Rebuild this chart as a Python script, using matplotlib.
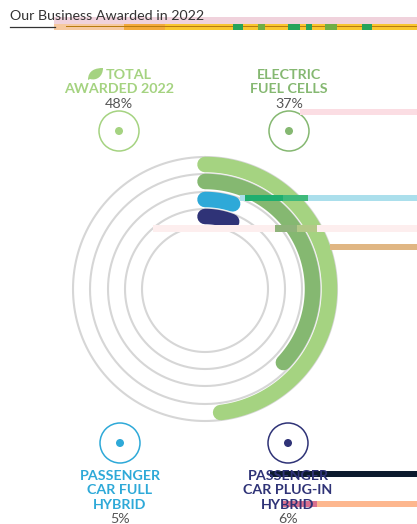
import numpy as np
import matplotlib.pyplot as plt
from matplotlib.patches import Circle, PathPatch, Rectangle
from matplotlib.path import Path

plt.rcParams['font.family'] = ['Lato', 'Open Sans', 'DejaVu Sans']

title = "Our Business Awarded in 2022"
categories = ["TOTAL\nAWARDED 2022", "ELECTRIC\nFUEL CELLS", "PASSENGER\nCAR FULL\nHYBRID", "PASSENGER\nCAR PLUG-IN\nHYBRID"]
values = [48, 37, 5, 6]
colors = ["#a5d381", "#85b871", "#2ea9d8", "#2f3377"]
ring_radii = [132, 115, 97, 80, 63]
bar_radii = [124.5, 107.5, 89.5, 72.5]

W, H = 417, 524
fig = plt.figure(figsize=(W / 100, H / 100), dpi=100)

# polar part, one r unit is one pixel
cx, cy, rmax = 205, 289, 140
pol = fig.add_axes([(cx - rmax) / W, 1 - (cy + rmax) / H, 2 * rmax / W, 2 * rmax / H], projection="polar")
pol.set_theta_zero_location("N")
pol.set_theta_direction(-1)
pol.set_ylim(0, rmax)
pol.axis("off")

t = np.linspace(0, 2 * np.pi, 361)
for r in ring_radii:
    pol.plot(t, np.full_like(t, r), color="#d6d6d6", lw=1.5, zorder=1)

for val, r, c in zip(values, bar_radii, colors):
    th = np.linspace(0, val / 100 * 2 * np.pi, 120)
    pol.plot(th, np.full_like(th, r), color=c, lw=15.5 * 0.72, solid_capstyle="round", zorder=2)

# overlay in pixel coordinates for the texts and icons
ax = fig.add_axes([0, 0, 1, 1])
ax.set_xlim(0, W)
ax.set_ylim(H, 0)
ax.axis("off")
ax.patch.set_alpha(0)

ax.text(10, 15.5, title, fontsize=10.3, color="#333333", va="center", ha="left")
ax.plot([10, 55], [27, 27], color="#333333", lw=0.9)

icon_x = [119, 289, 120, 288]
icon_y = [131, 131, 443, 443]
for x, y, c in zip(icon_x, icon_y, colors):
    ax.add_patch(Circle((x, y), 20, fill=False, ec=c, lw=1.1))
    ax.add_patch(Circle((x, y), 4, color=c, lw=0))

label_y = [75, 75, 476, 476]
line_h = 14.4
for x, y, lab, val, c in zip(icon_x, label_y, categories, values, colors):
    lines = lab.split("\n")
    for i, line in enumerate(lines):
        if line == "TOTAL":
            ax.text(x + 10, y + i * line_h, line, fontsize=10.3, fontweight="bold", color=c, ha="center", va="center")
        else:
            ax.text(x, y + i * line_h, line, fontsize=10.3, fontweight="bold", color=c, ha="center", va="center")
    ax.text(x, y + len(lines) * line_h, f"{val}%", fontsize=10.3, color="#555555", ha="center", va="center")

# leaf next to TOTAL
leaf = Path([(88, 80), (88, 70), (96, 68), (103, 68), (103, 76), (97, 81), (90, 79)],
            [Path.MOVETO, Path.CURVE4, Path.CURVE4, Path.CURVE4, Path.CURVE4, Path.CURVE4, Path.CURVE4])
ax.add_patch(PathPatch(leaf, fc=colors[0], ec="none"))

# coloured streaks that run across the picture
streaks = [
    (54, 17, 363, 7, "#f0d2dc"),
    (54, 24, 70, 6, "#f6c9a0"),
    (124, 24, 41, 6, "#f2a93b"),
    (165, 24, 252, 6, "#f9c62f"),
    (66, 26, 351, 1, "#b87a10"),
    (233, 24, 10, 6, "#27a35a"),
    (258, 24, 7, 6, "#6fae45"),
    (288, 24, 12, 6, "#27a35a"),
    (306, 24, 6, 6, "#27a35a"),
    (325, 24, 12, 6, "#6fae45"),
    (362, 24, 10, 6, "#27a35a"),
    (300, 109, 117, 6, "#fbdde3"),
    (240, 195, 177, 6, "#abdfec"),
    (245, 195, 38, 6, "#1fae6f"),
    (283, 195, 25, 6, "#3fba7c"),
    (153, 225, 264, 7, "#fdeeee"),
    (275, 225, 22, 7, "#8fb37a"),
    (297, 225, 20, 7, "#b3c987"),
    (330, 244, 87, 6, "#e0b683"),
    (270, 471, 147, 6, "#0c1a2e"),
    (282, 501, 135, 6, "#fdb78f"),
    (282, 501, 35, 6, "#d9708f"),
]
for x, y, w, h, c in streaks:
    ax.add_patch(Rectangle((x, y), w, h, color=c, lw=0))

fig.savefig("out.png", dpi=100)
